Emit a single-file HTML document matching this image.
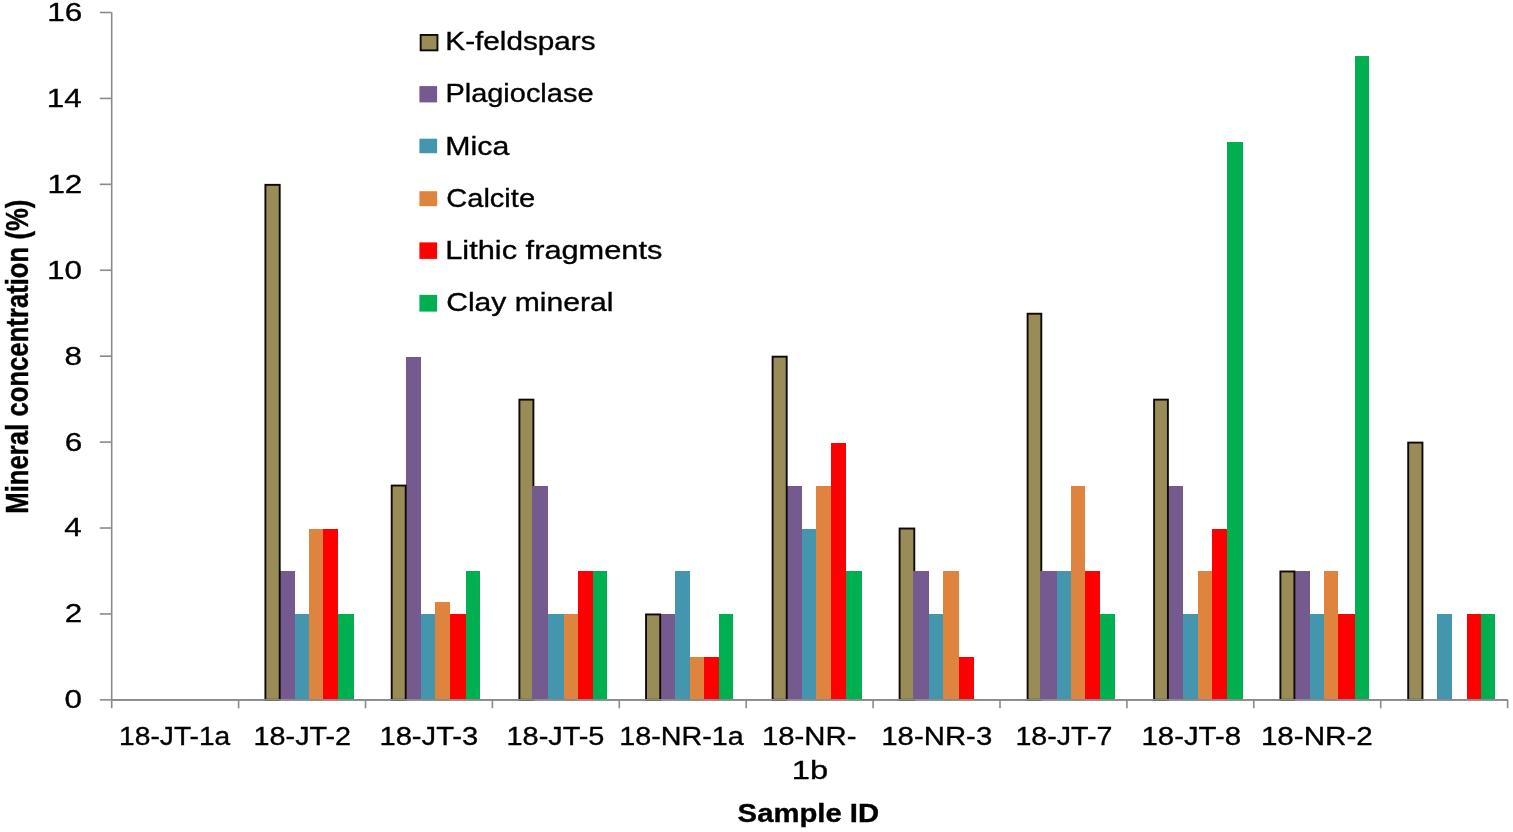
<!DOCTYPE html>
<html><head><meta charset="utf-8"><title>Mineral concentration chart</title>
<style>
html,body{margin:0;padding:0;background:#fff;}
body{width:1513px;height:832px;overflow:hidden;}
svg{display:block;}
text{font-family:"Liberation Sans", Arial, sans-serif;fill:#000;stroke:#000;stroke-width:0.35px;}
</style></head><body>
<svg width="1513" height="832" viewBox="0 0 1513 832">
<rect width="1513" height="832" fill="#fff"/>
<g stroke="#8a8a8a" stroke-width="1.6" fill="none" shape-rendering="auto">
<line x1="111.7" y1="12.5" x2="111.7" y2="708.3"/>
<line x1="99.8" y1="699.86" x2="111.7" y2="699.86"/>
<line x1="99.8" y1="613.94" x2="111.7" y2="613.94"/>
<line x1="99.8" y1="528.02" x2="111.7" y2="528.02"/>
<line x1="99.8" y1="442.1" x2="111.7" y2="442.1"/>
<line x1="99.8" y1="356.18" x2="111.7" y2="356.18"/>
<line x1="99.8" y1="270.26" x2="111.7" y2="270.26"/>
<line x1="99.8" y1="184.34" x2="111.7" y2="184.34"/>
<line x1="99.8" y1="98.42" x2="111.7" y2="98.42"/>
<line x1="99.8" y1="12.5" x2="111.7" y2="12.5"/>
<line x1="111.7" y1="699.86" x2="1507.6" y2="699.86"/>
<line x1="238.6" y1="699.86" x2="238.6" y2="708.3"/>
<line x1="365.5" y1="699.86" x2="365.5" y2="708.3"/>
<line x1="492.4" y1="699.86" x2="492.4" y2="708.3"/>
<line x1="619.3" y1="699.86" x2="619.3" y2="708.3"/>
<line x1="746.2" y1="699.86" x2="746.2" y2="708.3"/>
<line x1="873.1" y1="699.86" x2="873.1" y2="708.3"/>
<line x1="1000" y1="699.86" x2="1000" y2="708.3"/>
<line x1="1126.9" y1="699.86" x2="1126.9" y2="708.3"/>
<line x1="1253.8" y1="699.86" x2="1253.8" y2="708.3"/>
<line x1="1380.7" y1="699.86" x2="1380.7" y2="708.3"/>
<line x1="1507.6" y1="699.86" x2="1507.6" y2="708.3"/>
</g>
<g shape-rendering="crispEdges">
<rect x="279.7" y="571.48" width="14.9" height="128.38" fill="#755a90"/>
<rect x="294.6" y="614.44" width="14.6" height="85.42" fill="#4496ae"/>
<rect x="309.2" y="528.52" width="14.1" height="171.34" fill="#de843f"/>
<rect x="323.3" y="528.52" width="14.8" height="171.34" fill="#ff0000"/>
<rect x="338.1" y="614.44" width="15.8" height="85.42" fill="#00b050"/>
<rect x="405.7" y="356.68" width="15.3" height="343.18" fill="#755a90"/>
<rect x="421" y="614.44" width="14.2" height="85.42" fill="#4496ae"/>
<rect x="435.2" y="601.55" width="14.3" height="98.31" fill="#de843f"/>
<rect x="449.5" y="614.44" width="16.3" height="85.42" fill="#ff0000"/>
<rect x="465.8" y="571.48" width="14.4" height="128.38" fill="#00b050"/>
<rect x="547.8" y="614.44" width="15.8" height="85.42" fill="#4496ae"/>
<rect x="563.6" y="614.44" width="14.2" height="85.42" fill="#de843f"/>
<rect x="577.8" y="571.48" width="14.8" height="128.38" fill="#ff0000"/>
<rect x="592.6" y="571.48" width="13.9" height="128.38" fill="#00b050"/>
<rect x="660.2" y="614.44" width="15.2" height="85.42" fill="#755a90"/>
<rect x="675.4" y="571.48" width="14.4" height="128.38" fill="#4496ae"/>
<rect x="689.8" y="657.4" width="14.4" height="42.46" fill="#de843f"/>
<rect x="704.2" y="657.4" width="14.6" height="42.46" fill="#ff0000"/>
<rect x="718.8" y="614.44" width="14.6" height="85.42" fill="#00b050"/>
<rect x="786.7" y="485.56" width="15" height="214.3" fill="#755a90"/>
<rect x="801.7" y="528.52" width="14.6" height="171.34" fill="#4496ae"/>
<rect x="816.3" y="485.56" width="14.7" height="214.3" fill="#de843f"/>
<rect x="831" y="442.6" width="14.7" height="257.26" fill="#ff0000"/>
<rect x="845.7" y="571.48" width="16" height="128.38" fill="#00b050"/>
<rect x="929" y="614.44" width="14.2" height="85.42" fill="#4496ae"/>
<rect x="943.2" y="571.48" width="15.8" height="128.38" fill="#de843f"/>
<rect x="959" y="657.4" width="14.8" height="42.46" fill="#ff0000"/>
<rect x="1056.7" y="571.48" width="14.6" height="128.38" fill="#4496ae"/>
<rect x="1071.3" y="485.56" width="14" height="214.3" fill="#de843f"/>
<rect x="1085.3" y="571.48" width="14.8" height="128.38" fill="#ff0000"/>
<rect x="1100.1" y="614.44" width="14.4" height="85.42" fill="#00b050"/>
<rect x="1167.9" y="485.56" width="15.5" height="214.3" fill="#755a90"/>
<rect x="1183.4" y="614.44" width="14.5" height="85.42" fill="#4496ae"/>
<rect x="1197.9" y="571.48" width="14" height="128.38" fill="#de843f"/>
<rect x="1211.9" y="528.52" width="14.7" height="171.34" fill="#ff0000"/>
<rect x="1226.6" y="141.88" width="16" height="557.98" fill="#00b050"/>
<rect x="1294.4" y="571.48" width="15.1" height="128.38" fill="#755a90"/>
<rect x="1309.5" y="614.44" width="14.5" height="85.42" fill="#4496ae"/>
<rect x="1324" y="571.48" width="14.3" height="128.38" fill="#de843f"/>
<rect x="1338.3" y="614.44" width="16.3" height="85.42" fill="#ff0000"/>
<rect x="1354.6" y="55.96" width="14.3" height="643.9" fill="#00b050"/>
<rect x="1436.6" y="614.44" width="15.4" height="85.42" fill="#4496ae"/>
<rect x="1466.7" y="614.44" width="14.6" height="85.42" fill="#ff0000"/>
<rect x="1481.3" y="614.44" width="14" height="85.42" fill="#00b050"/>
</g>
<rect x="265.4" y="184.84" width="14.3" height="515.02" fill="#998c56" stroke="#0d0a06" stroke-width="1.9"/>
<rect x="391.7" y="485.56" width="14" height="214.3" fill="#998c56" stroke="#0d0a06" stroke-width="1.9"/>
<rect x="519.4" y="399.64" width="14" height="300.22" fill="#998c56" stroke="#0d0a06" stroke-width="1.9"/>
<rect x="646.05" y="614.44" width="14.15" height="85.42" fill="#998c56" stroke="#0d0a06" stroke-width="1.9"/>
<rect x="772.6" y="356.68" width="14.1" height="343.18" fill="#998c56" stroke="#0d0a06" stroke-width="1.9"/>
<rect x="899.6" y="528.52" width="14.7" height="171.34" fill="#998c56" stroke="#0d0a06" stroke-width="1.9"/>
<rect x="1027.6" y="313.72" width="13.7" height="386.14" fill="#998c56" stroke="#0d0a06" stroke-width="1.9"/>
<rect x="1154.1" y="399.64" width="13.8" height="300.22" fill="#998c56" stroke="#0d0a06" stroke-width="1.9"/>
<rect x="1280.4" y="571.48" width="14" height="128.38" fill="#998c56" stroke="#0d0a06" stroke-width="1.9"/>
<rect x="1408.2" y="442.6" width="14.25" height="257.26" fill="#998c56" stroke="#0d0a06" stroke-width="1.9"/>
<g shape-rendering="crispEdges">
<rect x="532.45" y="485.56" width="15.35" height="214.3" fill="#755a90"/>
<rect x="913.35" y="571.48" width="15.65" height="128.38" fill="#755a90"/>
<rect x="1040.35" y="571.48" width="16.35" height="128.38" fill="#755a90"/>
</g>
<line x1="111.7" y1="699.86" x2="1507.6" y2="699.86" stroke="#8a8a8a" stroke-width="1.6"/>
<rect x="420.65" y="34.95" width="16.8" height="15.4" fill="#998c56" stroke="#0d0a06" stroke-width="1.9"/>
<rect x="419.4" y="86.1" width="17.7" height="16.3" fill="#755a90"/>
<rect x="419.4" y="138.7" width="17.7" height="14.5" fill="#4496ae"/>
<rect x="419.4" y="191.2" width="17.7" height="15" fill="#de843f"/>
<rect x="419.4" y="242.4" width="17.7" height="16.5" fill="#ff0000"/>
<rect x="419.4" y="294.9" width="17.7" height="16.7" fill="#00b050"/>
<g>
<text transform="translate(445.32 50.1) scale(1.1253 1)" font-size="26.4">K-feldspars</text>
<text transform="translate(445.38 102.3) scale(1.0976 1)" font-size="26.4">Plagioclase</text>
<text transform="translate(445.28 154.5) scale(1.1476 1)" font-size="26.4">Mica</text>
<text transform="translate(446.25 206.7) scale(1.1005 1)" font-size="26.4">Calcite</text>
<text transform="translate(445.24 258.9) scale(1.1661 1)" font-size="26.4">Lithic fragments</text>
<text transform="translate(446.19 311.1) scale(1.1405 1)" font-size="26.4">Clay mineral</text>
<text transform="translate(64.52 708.31) scale(1.1900 1)" font-size="26.4">0</text>
<text transform="translate(64.83 622.39) scale(1.1900 1)" font-size="26.4">2</text>
<text transform="translate(64.21 536.47) scale(1.1900 1)" font-size="26.4">4</text>
<text transform="translate(64.68 450.55) scale(1.1900 1)" font-size="26.4">6</text>
<text transform="translate(64.52 364.63) scale(1.1900 1)" font-size="26.4">8</text>
<text transform="translate(47.08 278.71) scale(1.1900 1)" font-size="26.4">10</text>
<text transform="translate(47.4 192.79) scale(1.1900 1)" font-size="26.4">12</text>
<text transform="translate(46.77 106.87) scale(1.1900 1)" font-size="26.4">14</text>
<text transform="translate(47.24 20.95) scale(1.1900 1)" font-size="26.4">16</text>
<text transform="translate(119.09 744.7) scale(1.0678 1)" font-size="26.4">18-JT-1a</text>
<text transform="translate(253.54 744.7) scale(1.0905 1)" font-size="26.4">18-JT-2</text>
<text transform="translate(379.41 744.7) scale(1.1051 1)" font-size="26.4">18-JT-3</text>
<text transform="translate(506.53 744.7) scale(1.0941 1)" font-size="26.4">18-JT-5</text>
<text transform="translate(619.25 744.7) scale(1.0883 1)" font-size="26.4">18-NR-1a</text>
<text transform="translate(762 744.7) scale(1.1101 1)" font-size="26.4">18-NR-</text>
<text transform="translate(881.3 744.7) scale(1.1126 1)" font-size="26.4">18-NR-3</text>
<text transform="translate(1015.45 744.7) scale(1.0836 1)" font-size="26.4">18-JT-7</text>
<text transform="translate(1141.5 744.7) scale(1.1127 1)" font-size="26.4">18-JT-8</text>
<text transform="translate(1260.88 744.7) scale(1.1224 1)" font-size="26.4">18-NR-2</text>
<text transform="translate(791.85 779.2) scale(1.2372 1)" font-size="26.4">1b</text>
<text transform="translate(737.62 821.7) scale(1.1576 1)" font-size="25.29" font-weight="bold">Sample ID</text>
<text transform="translate(27.5 513.67) rotate(-90) scale(1.0157 1.2087)" font-size="25.3" font-weight="bold">Mineral concentration (%)</text>
</g>
</svg>
</body></html>
